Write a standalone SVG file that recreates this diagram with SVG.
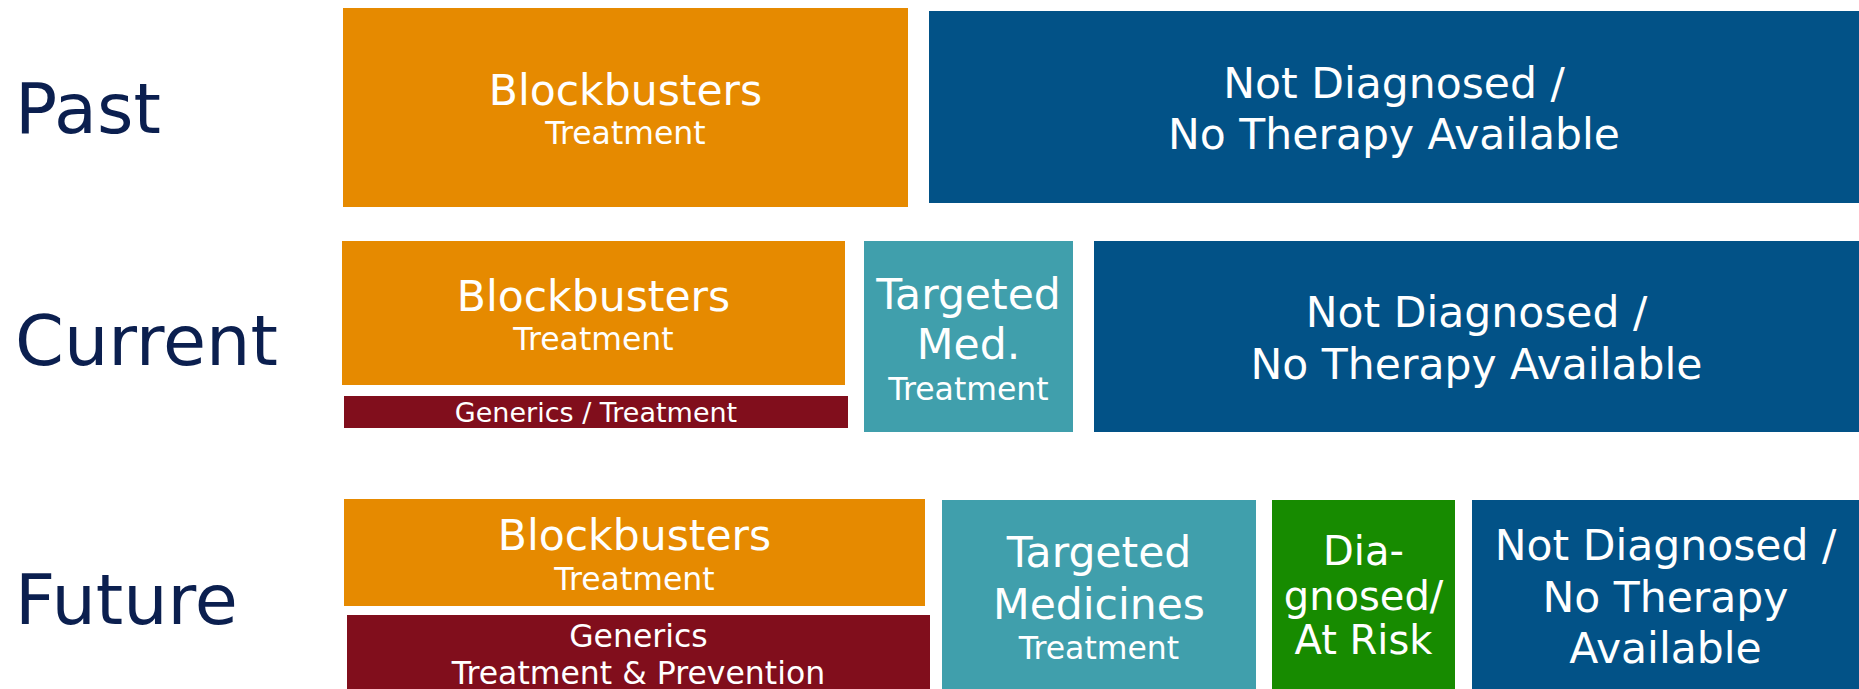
<svg xmlns="http://www.w3.org/2000/svg" width="1859" height="689" viewBox="0 0 1859 689">
<style>
text{font-family:"DejaVu Sans","Verdana",sans-serif;fill:#ffffff;text-anchor:middle}
.lbl{fill:#0b1f4f;font-size:70px;text-anchor:start}
.orange{fill:#e68a00}
.blue{fill:#025287}
.teal{fill:#409fac}
.maroon{fill:#810e1c}
.green{fill:#178b00}
.big{font-size:42.5px}
.sub{font-size:31.5px}
.gen{font-size:27px}
.grn{font-size:40px}
</style>
<rect width="1859" height="689" fill="#ffffff"/>
<g id="row-labels">
<text class="lbl" x="15" y="133">Past</text>
<text class="lbl" x="15" y="365">Current</text>
<text class="lbl" x="15" y="624">Future</text>
</g>
<g id="past-blockbusters">
<rect class="orange" x="343" y="8" width="565" height="199"/>
<text class="big" x="625.5" y="105">Blockbusters</text>
<text class="sub" x="625.5" y="144">Treatment</text>
</g>
<g id="past-not-diagnosed">
<rect class="blue" x="929" y="11" width="930" height="192"/>
<text class="big" x="1394" y="98">Not Diagnosed /</text>
<text class="big" x="1394" y="149">No Therapy Available</text>
</g>
<g id="current-blockbusters">
<rect class="orange" x="342" y="241" width="503" height="144"/>
<text class="big" x="593.5" y="311">Blockbusters</text>
<text class="sub" x="593.5" y="350">Treatment</text>
</g>
<g id="current-generics">
<rect class="maroon" x="344" y="396" width="504" height="32"/>
<text class="gen" x="596" y="422">Generics / Treatment</text>
</g>
<g id="current-targeted">
<rect class="teal" x="864" y="241" width="209" height="191"/>
<text class="big" x="968.5" y="309">Targeted</text>
<text class="big" x="968.5" y="359">Med.</text>
<text class="sub" x="968.5" y="400">Treatment</text>
</g>
<g id="current-not-diagnosed">
<rect class="blue" x="1094" y="241" width="765" height="191"/>
<text class="big" x="1476.5" y="327">Not Diagnosed /</text>
<text class="big" x="1476.5" y="379">No Therapy Available</text>
</g>
<g id="future-blockbusters">
<rect class="orange" x="344" y="499" width="581" height="107"/>
<text class="big" x="634.5" y="550">Blockbusters</text>
<text class="sub" x="634.5" y="590">Treatment</text>
</g>
<g id="future-generics">
<rect class="maroon" x="347" y="615" width="583" height="74"/>
<text class="sub" x="638.5" y="647">Generics</text>
<text class="sub" x="638.5" y="684">Treatment &amp; Prevention</text>
</g>
<g id="future-targeted">
<rect class="teal" x="942" y="500" width="314" height="189"/>
<text class="big" x="1099" y="567">Targeted</text>
<text class="big" x="1099" y="619">Medicines</text>
<text class="sub" x="1099" y="659">Treatment</text>
</g>
<g id="future-diagnosed">
<rect class="green" x="1272" y="500" width="183" height="189"/>
<text class="grn" x="1363.5" y="565">Dia-</text>
<text class="grn" x="1363.5" y="610">gnosed/</text>
<text class="grn" x="1363.5" y="654">At Risk</text>
</g>
<g id="future-not-diagnosed">
<rect class="blue" x="1472" y="500" width="387" height="189"/>
<text class="big" x="1665.5" y="560">Not Diagnosed /</text>
<text class="big" x="1665.5" y="612">No Therapy</text>
<text class="big" x="1665.5" y="663">Available</text>
</g>
<g id="connectors"></g>
</svg>
